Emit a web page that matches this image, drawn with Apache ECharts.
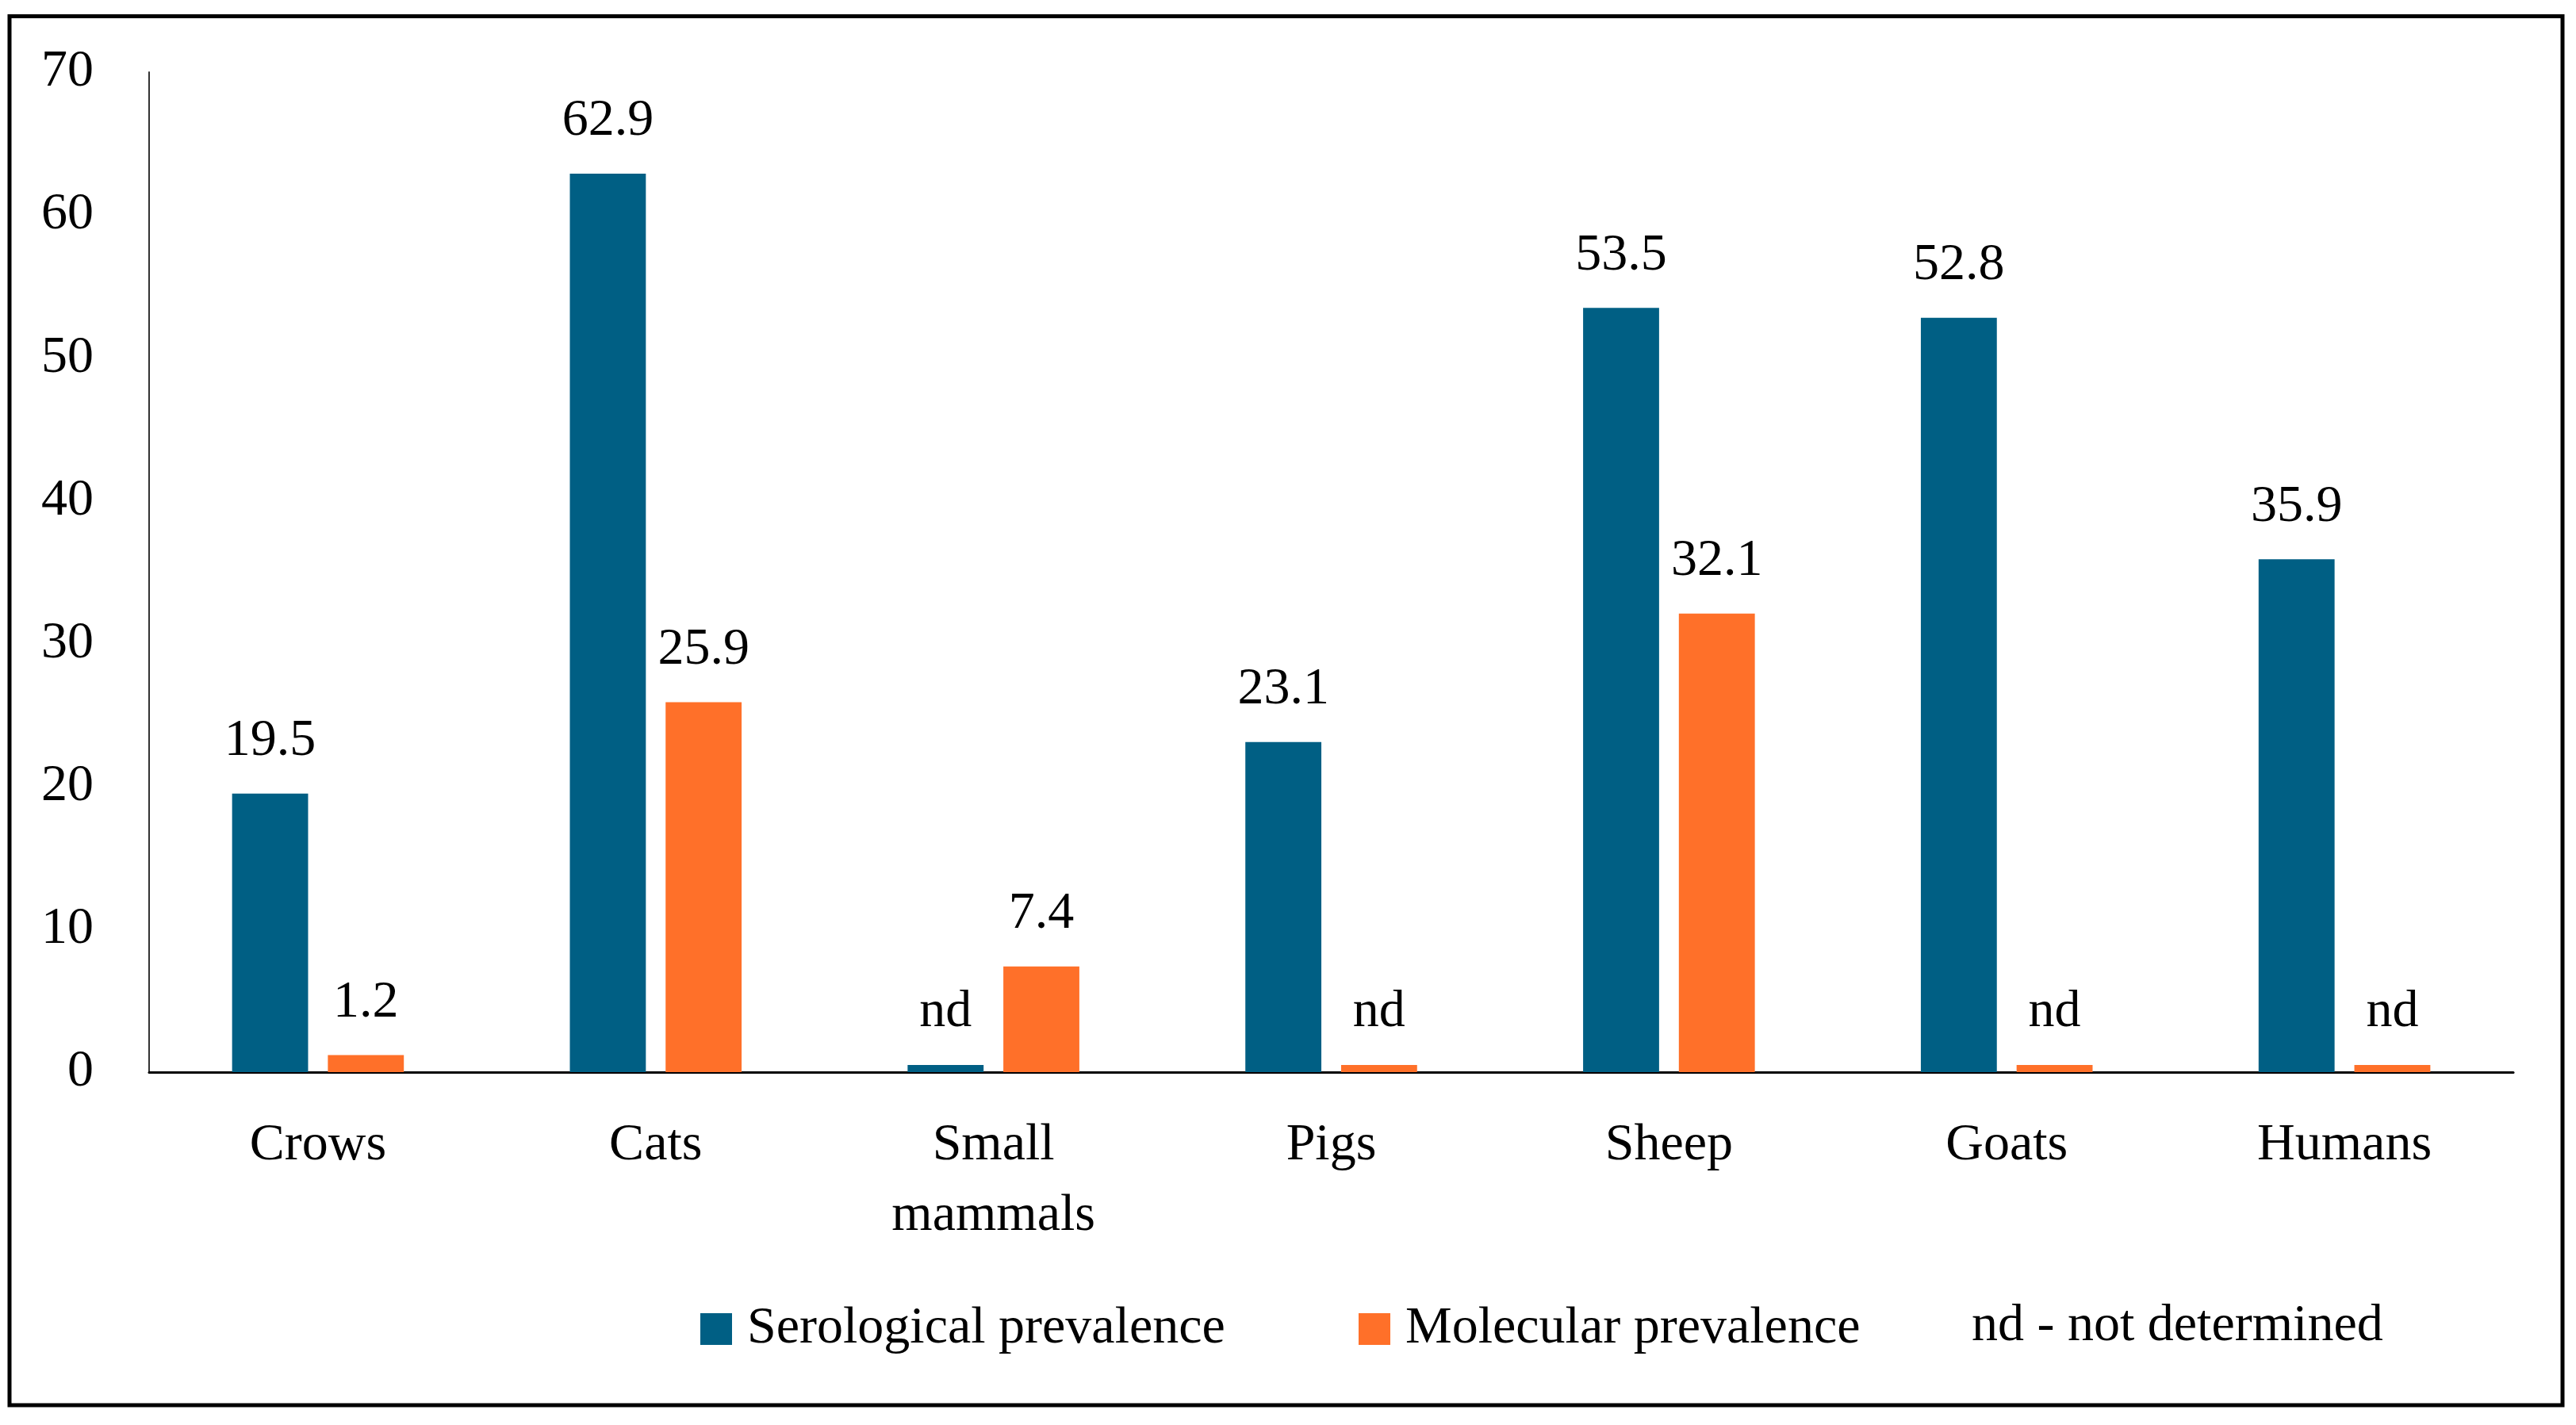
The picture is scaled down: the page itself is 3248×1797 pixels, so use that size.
<!DOCTYPE html>
<html>
<head>
<meta charset="utf-8">
<script src="https://cdn.jsdelivr.net/npm/echarts@6/dist/echarts.min.js"></script>
<style>
  html, body { margin: 0; padding: 0; background: #fff; }
  #chart { width: 3248px; height: 1797px; }
</style>
</head>
<body>
<div id="chart"></div>
<script>
// ---- data ----
const categories = ['Crows', 'Cats', 'Small\nmammals', 'Pigs', 'Sheep', 'Goats', 'Humans'];
const serological = [19.5, 62.9, null, 23.1, 53.5, 52.8, 35.9];   // null = nd (not determined)
const molecular   = [1.2, 25.9, 7.4, null, 32.1, null, null];
const ndStubHeight = 0.5;     // small stub drawn for "nd" entries
const ndLabel = 'nd';
const seriesNames = ['Serological prevalence', 'Molecular prevalence'];
const noteText = 'nd - not determined';
const yMin = 0, yMax = 70, yInterval = 10;

// ---- style ----
const FONT = '"Liberation Serif", "Times New Roman", serif';
const FS = 66;
const BLUE = '#005F84';
const ORANGE = '#FF7029';

function toBarData(arr) {
  return arr.map(v => v === null
    ? { value: ndStubHeight, label: { formatter: ndLabel } }
    : v);
}

const chart = echarts.init(document.getElementById('chart'), null, { renderer: 'canvas' });

const barLabel = {
  show: true,
  position: 'top',
  distance: 33,
  fontFamily: FONT,
  fontSize: FS,
  lineHeight: 66,
  color: '#000'
};

const legendCommon = {
  top: 1638,
  itemWidth: 40,
  itemHeight: 40,
  icon: 'rect',
  selectedMode: false,
  textStyle: { fontFamily: FONT, fontSize: FS, color: '#000', padding: [0, 0, 0, 14] }
};

chart.setOption({
  backgroundColor: '#fff',
  animation: false,
  grid: { left: 188, right: 79, top: 91, bottom: 445, containLabel: false },
  legend: [
    Object.assign({ data: [seriesNames[0]], left: 878 }, legendCommon),
    Object.assign({ data: [seriesNames[1]], left: 1708 }, legendCommon)
  ],
  xAxis: {
    type: 'category',
    data: categories,
    axisLine: { show: true, lineStyle: { color: '#000', width: 3 } },
    axisTick: { show: false },
    axisLabel: {
      interval: 0,
      margin: 48,
      fontFamily: FONT,
      fontSize: FS,
      lineHeight: 89,
      color: '#000'
    },
    splitLine: { show: false }
  },
  yAxis: {
    type: 'value',
    min: yMin,
    max: yMax,
    interval: yInterval,
    axisLine: { show: true, lineStyle: { color: '#333', width: 2 } },
    axisTick: { show: false },
    splitLine: { show: false },
    axisLabel: {
      margin: 70,
      fontFamily: FONT,
      fontSize: FS,
      color: '#000'
    }
  },
  series: [
    {
      name: seriesNames[0],
      type: 'bar',
      data: toBarData(serological),
      barWidth: '22.5%',
      barGap: '26%',
      itemStyle: { color: BLUE },
      label: barLabel
    },
    {
      name: seriesNames[1],
      type: 'bar',
      data: toBarData(molecular),
      barWidth: '22.5%',
      barGap: '26%',
      itemStyle: { color: ORANGE },
      label: barLabel
    }
  ],
  graphic: [
    {
      type: 'rect',
      shape: { x: 12, y: 20.5, width: 3219, height: 1751.5 },
      style: { fill: 'none', stroke: '#000', lineWidth: 5 },
      silent: true,
      z: 100
    },
    {
      type: 'text',
      x: 2486,
      y: 1673,
      style: {
        text: noteText,
        fontFamily: FONT,
        fontSize: FS,
        fill: '#000',
        textAlign: 'left',
        textVerticalAlign: 'middle'
      }
    }
  ]
});
</script>
</body>
</html>
